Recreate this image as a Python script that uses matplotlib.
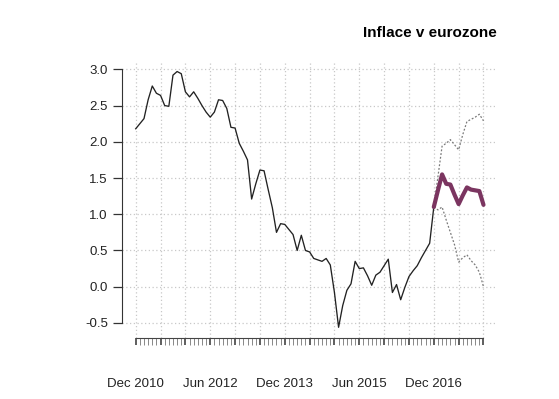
import matplotlib
matplotlib.use("Agg")
import matplotlib.pyplot as plt
import numpy as np

plt.rcParams['font.family'] = ['Liberation Sans', 'DejaVu Sans']

# monthly inflation, Dec 2010 .. Dec 2016
inflation = [2.18, 2.25, 2.32, 2.58, 2.77, 2.67, 2.64, 2.50, 2.49, 2.92,
             2.97, 2.94, 2.69, 2.62, 2.69, 2.60, 2.50, 2.41, 2.34, 2.41,
             2.58, 2.57, 2.46, 2.20, 2.19, 1.98, 1.87, 1.75, 1.21, 1.42,
             1.61, 1.60, 1.34, 1.09, 0.75, 0.87, 0.86, 0.79, 0.72, 0.50,
             0.71, 0.50, 0.48, 0.39, 0.37, 0.35, 0.39, 0.30, -0.08, -0.56,
             -0.26, -0.05, 0.04, 0.35, 0.25, 0.26, 0.15, 0.02, 0.16, 0.20,
             0.29, 0.38, -0.08, 0.03, -0.18, -0.01, 0.14, 0.22, 0.29, 0.40,
             0.50, 0.60, 1.10]

# forecast Dec 2016 .. Dec 2017
fc_mean = [1.10, 1.33, 1.55, 1.42, 1.41, 1.27, 1.14, 1.26, 1.37, 1.34, 1.33, 1.32, 1.13]
fc_upper = [1.10, 1.52, 1.94, 1.98, 2.03, 1.96, 1.89, 2.10, 2.28, 2.31, 2.34, 2.38, 2.29]
fc_lower = [1.10, 1.06, 1.10, 0.92, 0.75, 0.58, 0.34, 0.40, 0.44, 0.36, 0.30, 0.20, 0.00]

x_labels = ["Dec 2010", "", "", "Jun 2012", "", "", "Dec 2013", "", "",
            "Jun 2015", "", "", "Dec 2016", "", ""]
y_ticks = [-0.5, 0.0, 0.5, 1.0, 1.5, 2.0, 2.5, 3.0]

hist_x = np.arange(len(inflation))
fc_x = np.arange(len(inflation) - 1, len(inflation) - 1 + len(fc_mean))
last = fc_x[-1]

fig = plt.figure(figsize=(5.59, 3.99), dpi=100)
ax = fig.add_axes([0.2179, 0.1541, 0.6719, 0.6923])

# grid first
ax.set_axisbelow(True)
ax.grid(True, which='major', color='#c8c8c8', ls=(0, (1, 2)), lw=0.9)

ax.plot(hist_x, inflation, color='#222222', lw=0.95)
ax.plot(fc_x, fc_upper, color='#7a7a7a', lw=0.9, ls=(0, (1.5, 1.5)))
ax.plot(fc_x, fc_lower, color='#7a7a7a', lw=0.9, ls=(0, (1.5, 1.5)))
ax.plot(fc_x, fc_mean, color='#7b3560', lw=3.0, solid_capstyle='round', solid_joinstyle='round')

# R style 4% padding
allv = inflation + fc_upper + fc_lower
ymin, ymax = min(allv), max(allv)
ax.set_ylim(ymin - 0.04 * (ymax - ymin), ymax + 0.04 * (ymax - ymin))
ax.set_xlim(-0.04 * last, last * 1.04)

for s in ['top', 'right']:
    ax.spines[s].set_visible(False)
ax.spines['left'].set_bounds(y_ticks[0], y_ticks[-1])
ax.spines['bottom'].set_bounds(0, last)
ax.spines['left'].set_color('#333333')
ax.spines['bottom'].set_color('#444444')

ax.set_yticks(y_ticks)
ax.set_yticklabels([f"{v:.1f}" for v in y_ticks])
ax.set_xticks(np.arange(0, last + 1, 6))
ax.set_xticks(np.arange(0, last + 1, 1), minor=True)
ax.set_xticklabels(x_labels)

ax.tick_params(axis='y', length=6.5, width=0.9, color='#333333', pad=3.5,
               labelsize=9.5, labelcolor='#222222')
ax.tick_params(axis='x', which='major', length=5, width=1.1, color='#333333',
               pad=24, labelsize=9.5, labelcolor='#222222')
ax.tick_params(axis='x', which='minor', length=5, width=0.7, color='#888888')

fig.text(0.889, 1 - 33 / 399, "Inflace v eurozone", ha='right', va='center',
         fontweight='bold', fontsize=11)

fig.savefig('out.png', dpi=100)
